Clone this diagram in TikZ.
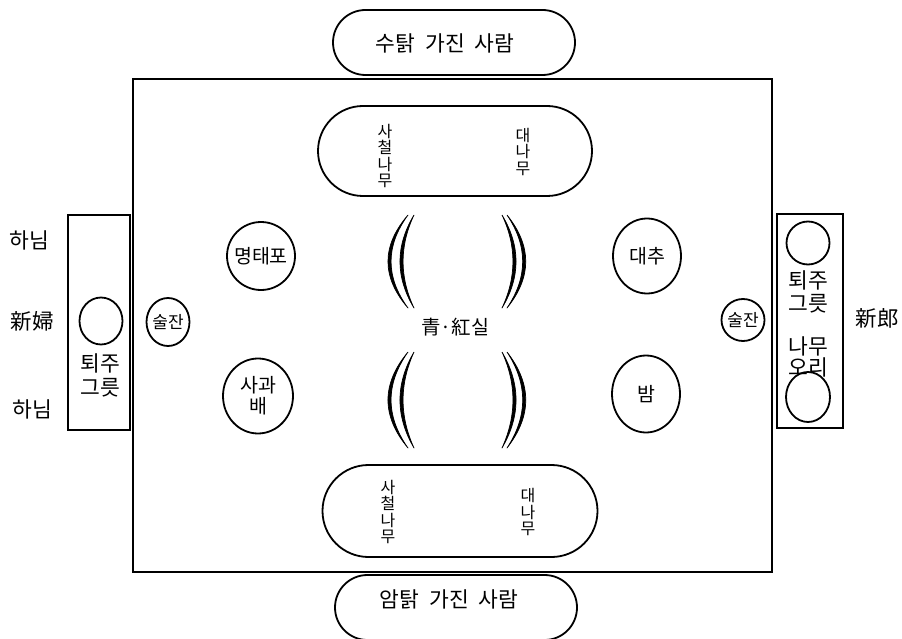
\documentclass[tikz,border=0pt]{standalone}
\usepackage{fontspec}
\setmainfont{Noto Sans CJK KR}
\usetikzlibrary{shapes.geometric,shapes.misc}
\tikzset{
  ln/.style={line width=1.8pt},
  pill/.style={ln, draw, rounded rectangle, inner sep=0pt},
  dish/.style={ln, draw, ellipse, inner sep=0pt},
  tray/.style={ln, draw, rectangle, inner sep=0pt},
  lbl/.style={inner sep=0pt, align=center, font=\fontsize{21.5}{24}\selectfont},
  vtxt/.style={inner sep=0pt, align=center, font=\fontsize{16}{16.3}\selectfont},
  dtxt/.style={inner sep=0pt, align=center, font=\fontsize{19.5}{21}\selectfont},
  ctxt/.style={inner sep=0pt, align=center, font=\fontsize{17}{18}\selectfont},
  thr/.style={line width=0.7pt, line join=round},
}
\begin{document}
\begin{tikzpicture}[x=1pt,y=-1pt]
\useasboundingbox (0,0) rectangle (902,639);

% the table
\node[tray, minimum width=639pt, minimum height=493pt] (table) at (452.5,325.5) {};

% people with the hen and the rooster
\node[pill, minimum width=242pt, minimum height=65pt] (rooster) at (454,42.5) {};
\node[lbl] (roostertxt) at (445,43) {수탉\hspace{10pt}가진\hspace{10pt}사람};
\node[pill, minimum width=242pt, minimum height=65pt] (hen) at (456,607.5) {};
\node[lbl] (hentxt) at (449,599) {암탉\hspace{10pt}가진\hspace{10pt}사람};

% vases with evergreen and bamboo
\node[pill, minimum width=274pt, minimum height=90pt] (vasetop) at (455,151) {};
\node[vtxt] (evtop) at (385,156) {사\\철\\나\\무};
\node[vtxt] (bamtop) at (523,152) {대\\나\\무};
\node[pill, minimum width=275pt, minimum height=92pt] (vasebot) at (460,511) {};
\node[vtxt] (evbot) at (388,512) {사\\철\\나\\무};
\node[vtxt] (bambot) at (528,512) {대\\나\\무};

% dishes on the table
\node[dish, minimum width=68pt, minimum height=68pt] (fish) at (261,256) {};
\node[dtxt] at (fish) {명태포};
\node[dish, minimum width=70pt, minimum height=75pt] (fruit) at (258,396) {};
\node[dtxt] at (fruit) {사과\\배};
\node[dish, minimum width=68pt, minimum height=75pt] (jujube) at (647,256) {};
\node[dtxt] at (jujube) {대추};
\node[dish, minimum width=68pt, minimum height=77pt] (chestnut) at (646,394) {};
\node[dtxt] at (chestnut) {밤};

% wine cups
\node[dish, minimum width=43pt, minimum height=48pt] (cupl) at (168,322) {};
\node[ctxt] at (cupl) {술잔};
\node[dish, minimum width=43pt, minimum height=42pt] (cupr) at (743,320) {};
\node[ctxt] at (cupr) {술잔};

% blue and red threads
\node[dtxt] (thread) at (455,327) {青·紅실};
\foreach \ya/\yb in {215/308, 352/448}{
  \pgfmathsetmacro{\ca}{\ya+(\yb-\ya)/3}
  \pgfmathsetmacro{\cb}{\ya+2*(\yb-\ya)/3}
  % left pair
  \filldraw[thr] (408,\ya) .. controls (381.3,\ca) and (381.3,\cb) .. (408,\yb)
        .. controls (385.4,\cb) and (385.4,\ca) .. (408,\ya);
  \filldraw[thr] (414,\ya) .. controls (395.3,\ca) and (395.3,\cb) .. (414,\yb)
        .. controls (399.4,\cb) and (399.4,\ca) .. (414,\ya);
  % right pair
  \filldraw[thr] (502,\ya) .. controls (520.7,\ca) and (520.7,\cb) .. (502,\yb)
        .. controls (516.6,\cb) and (516.6,\ca) .. (502,\ya);
  \filldraw[thr] (507,\ya) .. controls (532,\ca) and (532,\cb) .. (507,\yb)
        .. controls (527.9,\cb) and (527.9,\ca) .. (507,\ya);
}

% bride side
\node[tray, minimum width=62pt, minimum height=215pt] (brtray) at (99,322.5) {};
\node[dish, minimum width=43pt, minimum height=47pt] (brbowl) at (101,321) {};
\node[lbl] (brbowltxt) at (100,375) {퇴주\\그릇};
\node[lbl] (maid1) at (29,240) {하님};
\node[lbl] (bride) at (32,321) {新婦};
\node[lbl] (maid2) at (32,409) {하님};

% groom side
\node[tray, minimum width=66pt, minimum height=214pt] (grtray) at (810,321) {};
\node[dish, minimum width=43pt, minimum height=43pt] (grbowl) at (808,243) {};
\node[lbl, font=\fontsize{21.5}{23}\selectfont] (grbowltxt) at (808,292) {퇴주\\그릇};
\node[dish, minimum width=44pt, minimum height=50pt] (duck) at (808,397) {};
\node[lbl, font=\fontsize{21.5}{21}\selectfont] (ducktxt) at (808,357) {나무\\오리};
\node[lbl] (groom) at (877,318) {新郎};
\end{tikzpicture}
\end{document}
